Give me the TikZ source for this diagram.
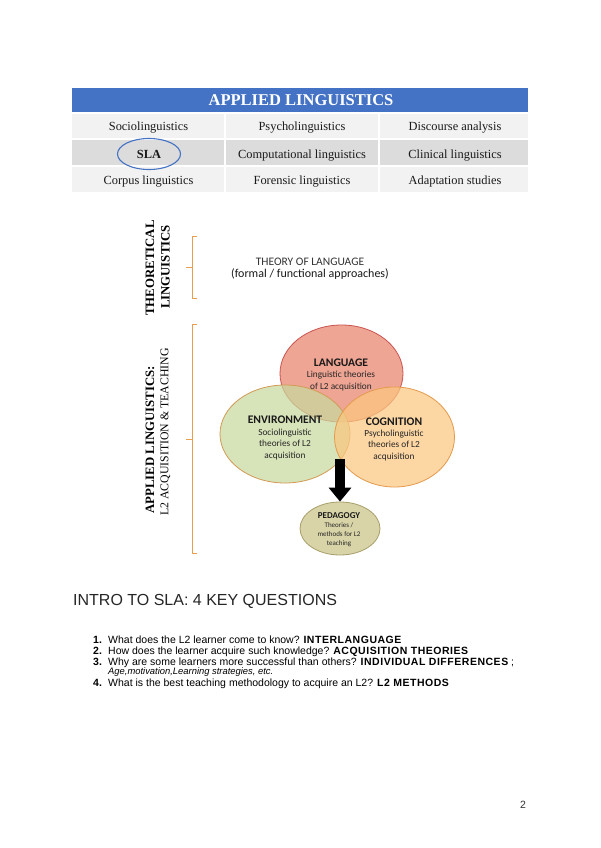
\documentclass[tikz,border=0pt]{standalone}
\usepackage{fontspec}
\setmainfont{Liberation Serif}
\newfontfamily\calib{Carlito}
\newfontfamily\arial{Liberation Sans}
\newfontfamily\arialbwide{Liberation Sans Bold}[LetterSpace=5]
\usetikzlibrary{shapes.geometric,arrows.meta}
\definecolor{hdrblue}{HTML}{4472C4}
\definecolor{rowlight}{HTML}{F2F2F2}
\definecolor{rowdark}{HTML}{DCDCDC}
\definecolor{txtdark}{HTML}{1A1A1A}
\definecolor{bracecol}{HTML}{E8A050}
\definecolor{langfill}{HTML}{EA836C}
\definecolor{langline}{HTML}{C9544F}
\definecolor{envfill}{HTML}{C8D99E}
\definecolor{envline}{HTML}{D29A55}
\definecolor{cogfill}{HTML}{FBC780}
\definecolor{cogline}{HTML}{E49A4C}
\definecolor{pedfill}{HTML}{D8D4A8}
\definecolor{pedline}{HTML}{A89E6A}
\newcommand{\bw}[1]{{\arialbwide #1}}
\tikzset{
  cell/.style={anchor=base, inner sep=0pt, text=txtdark, font=\fontsize{12.4}{14}\selectfont},
  vtext/.style={rotate=90, inner sep=0pt, text=black},
  bracestyle/.style={draw=bracecol, line width=0.6pt},
  blob/.style={ellipse, inner sep=0pt, line width=0.8pt, fill opacity=0.72, draw opacity=1},
  head/.style={inner sep=0pt, text=black!90, font=\calib\bfseries\fontsize{11.6}{13}\selectfont},
  sub/.style={inner sep=0pt, align=center, text=black!85, font=\calib\fontsize{9.3}{11.8}\selectfont},
  listnum/.style={anchor=base west, inner sep=0pt, font=\arial\bfseries\fontsize{10.5}{12}\selectfont},
  listtxt/.style={anchor=base west, inner sep=0pt, font=\arial\fontsize{10.5}{12}\selectfont}
}
\begin{document}
\begin{tikzpicture}[x=1pt,y=-1pt]
\useasboundingbox[fill=white] (0,0) rectangle (600,848);

% ---------- table ----------
\fill[hdrblue] (72,88) rectangle (528,113);
\fill[rowlight] (72,113) rectangle (528,139);
\fill[rowdark] (72,139) rectangle (528,166);
\fill[rowlight] (72,166) rectangle (528,192);
\draw[white, line width=1.2pt] (72,113) -- (528,113) (72,139) -- (528,139) (72,166) -- (528,166)
  (225,113) -- (225,192) (379,113) -- (379,192);
\node[anchor=base, inner sep=0pt, text=white, font=\bfseries\fontsize{16.5}{18}\selectfont] (hdr) at (301,106) {APPLIED LINGUISTICS};
\node[cell] (c11) at (148.5,131) {Sociolinguistics};
\node[cell] (c12) at (302,131) {Psycholinguistics};
\node[cell] (c13) at (455,131) {Discourse analysis};
\node[cell, font=\bfseries\fontsize{12.4}{14}\selectfont] (c21) at (149,158) {SLA};
\node[cell] (c22) at (302,158) {Computational linguistics};
\node[cell] (c23) at (455,158) {Clinical linguistics};
\node[cell] (c31) at (148.5,184.5) {Corpus linguistics};
\node[cell] (c32) at (302,184.5) {Forensic linguistics};
\node[cell] (c33) at (455,184.5) {Adaptation studies};
\node[ellipse, draw=hdrblue, line width=1.1pt, minimum width=63pt, minimum height=31pt, inner sep=0pt] (slaring) at (149,154) {};

% ---------- side labels ----------
\node[vtext, font=\bfseries\fontsize{12.8}{14}\selectfont] (theo1) at (150,268) {THEORETICAL};
\node[vtext, font=\bfseries\fontsize{12.8}{14}\selectfont] (theo2) at (165.5,267) {LINGUISTICS};
\node[vtext, font=\bfseries\fontsize{12.8}{14}\selectfont] (appl1) at (150,440) {APPLIED LINGUISTICS:};
\node[vtext, font=\fontsize{11.8}{14}\selectfont] (appl2) at (165.5,432) {L2 ACQUISITION \& TEACHING};

% ---------- braces ----------
\draw[bracestyle] (197,236) -- (192,236) -- (192,298) -- (197,298);
\draw[bracestyle] (192,267) -- (186,267);
\draw[bracestyle] (197,324) -- (192,324) -- (192,553) -- (197,553);
\draw[bracestyle] (192,439) -- (186,439);

% ---------- theory ----------
\node[anchor=base, inner sep=0pt, text=black!80, font=\calib\fontsize{11.5}{13}\selectfont] (theory1) at (310,265) {THEORY OF LANGUAGE};
\node[anchor=base, inner sep=0pt, text=black!90, font=\calib\fontsize{12}{13}\selectfont] (theory2) at (310,277.5) {(formal / functional approaches)};

% ---------- venn ----------
\node[blob, fill=langfill, draw=langline, minimum width=123pt, minimum height=97pt] (lang) at (341.5,373.5) {};
\node[blob, fill=envfill, draw=envline, minimum width=130pt, minimum height=98pt] (env) at (285,434) {};
\node[blob, fill=cogfill, draw=cogline, minimum width=120pt, minimum height=100pt] (cog) at (394.5,437) {};
\node[ellipse, inner sep=0pt, line width=0.8pt, fill=pedfill, draw=pedline, minimum width=80pt, minimum height=53pt] (peda) at (340,528.5) {};

\coordinate (arrtop) at (340,459);
\draw[line width=10pt, -{Triangle[width=22pt,length=14pt]}] (arrtop) -- (peda.north);

\node[head] (langh) at (341,363) {LANGUAGE};
\node[sub] (langs) at (341,381) {Linguistic theories\\of L2 acquisition};
\node[head] (envh) at (285,420) {ENVIRONMENT};
\node[sub] (envs) at (285,444.5) {Sociolinguistic\\theories of L2\\acquisition};
\node[head] (cogh) at (394,422) {COGNITION};
\node[sub] (cogs) at (394,445.5) {Psycholinguistic\\theories of L2\\acquisition};
\node[head, font=\calib\bfseries\fontsize{9}{10}\selectfont] (pedh) at (339,516) {PEDAGOGY};
\node[sub, font=\calib\fontsize{7}{9}\selectfont] (peds) at (339,535) {Theories /\\methods for L2\\teaching};

% ---------- questions ----------
\node[anchor=base west, inner sep=0pt, text=black!85, font=\arial\fontsize{16}{18}\selectfont] (title) at (73,605) {INTRO TO SLA: 4 KEY QUESTIONS};

\node[listnum] (n1) at (93,643) {1.};
\node[listtxt] (q1) at (108,643) {What does the L2 learner come to know? \bw{INTERLANGUAGE}};
\node[listnum] (n2) at (93,654) {2.};
\node[listtxt] (q2) at (108,654) {How does the learner acquire such knowledge? \bw{ACQUISITION THEORIES}};
\node[listnum] (n3) at (93,665) {3.};
\node[listtxt] (q3) at (108,665) {Why are some learners more successful than others? \bw{INDIVIDUAL DIFFERENCES} ;};
\node[anchor=base west, inner sep=0pt, font=\arial\itshape\fontsize{9.4}{10}\selectfont] (q3b) at (108,674.5) {Age,motivation,Learning strategies, etc.};
\node[listnum] (n4) at (93,686) {4.};
\node[listtxt] (q4) at (108,686) {What is the best teaching methodology to acquire an L2? \bw{L2 METHODS}};

\node[anchor=base, inner sep=0pt, text=black!80, font=\arial\fontsize{10.5}{12}\selectfont] (pagenum) at (523,808) {2};
\end{tikzpicture}
\end{document}
